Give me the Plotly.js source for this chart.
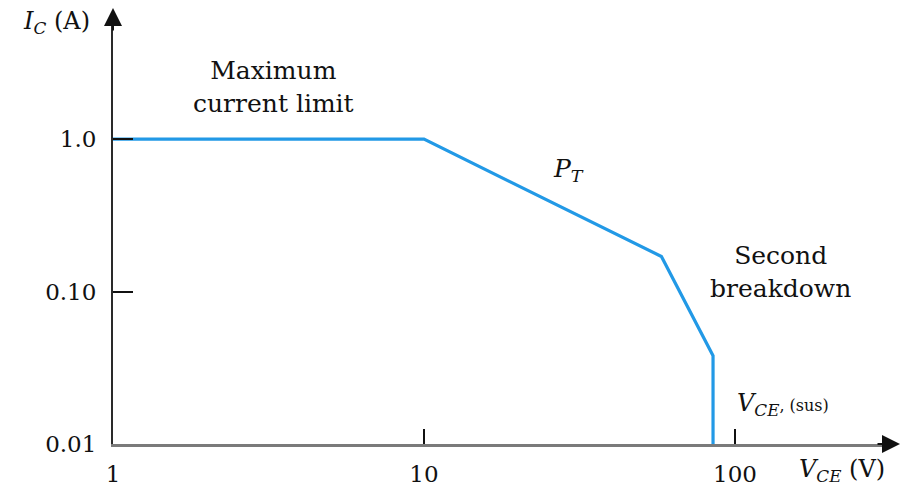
<!DOCTYPE html>
<html>
<head>
<meta charset="utf-8">
<script src="https://cdn.plot.ly/plotly-3.0.1.min.js"></script>
<style>
  html, body { margin: 0; padding: 0; background: #fff; }
  #chart { width: 907px; height: 489px; }
</style>
</head>
<body>
<div id="chart"></div>
<script>
// Safe operating area of a power transistor (log-log)
const vce = [1, 10, 58, 85, 85];          // collector-emitter voltage, V
const ic = [1.0, 1.0, 0.17, 0.038, 0.01]; // collector current, A

const xTickVals = [1, 10, 100];
const xTickText = ['1', '10', '100'];
const yTickVals = [0.01, 0.1, 1];
const yTickText = ['0.01', '0.10', '1.0'];

// plot-area geometry in pixels
const L = 113, T = 20, W = 775, H = 424;
const px = x => (x - L) / W;
const py = y => 1 - (y - T) / H;

const serif = 'DejaVu Serif, Liberation Serif, serif';
const ink = '#111111';

const trace = {
  x: vce, y: ic,
  type: 'scatter', mode: 'lines',
  line: { color: '#2299e6', width: 3.2 },
  hoverinfo: 'skip'
};

function label(text, x, y, size, align) {
  return {
    text: text, xref: 'paper', yref: 'paper', x: px(x), y: py(y),
    xanchor: align || 'center', yanchor: 'middle', showarrow: false,
    font: { family: serif, size: size, color: ink }
  };
}

function arrow(xTip, yTip, ax, ay) {
  return {
    text: '', xref: 'paper', yref: 'paper', x: px(xTip), y: py(yTip),
    ax: ax, ay: ay, showarrow: true, arrowhead: 2, arrowsize: 1.8,
    arrowwidth: 2, arrowcolor: ink
  };
}

const layout = {
  width: 907, height: 489,
  margin: { l: L, r: 907 - L - W, t: T, b: 489 - T - H },
  paper_bgcolor: '#fff', plot_bgcolor: '#fff',
  showlegend: false,
  xaxis: {
    type: 'log', range: [0, 2.492],
    tickvals: xTickVals, ticktext: xTickText,
    ticks: 'inside', ticklen: 15, tickwidth: 1.6, tickcolor: ink,
    showline: true, linecolor: '#7a7a7a', linewidth: 3,
    showgrid: false, zeroline: false,
    ticklabelstandoff: 7,
    tickfont: { family: serif, size: 23, color: ink }
  },
  yaxis: {
    type: 'log', range: [-2, 0.782],
    tickvals: yTickVals, ticktext: yTickText,
    ticks: 'inside', ticklen: 20, tickwidth: 2, tickcolor: ink,
    showline: true, linecolor: '#2a2a2a', linewidth: 2,
    showgrid: false, zeroline: false,
    ticklabelstandoff: 10,
    tickfont: { family: serif, size: 23, color: ink }
  },
  annotations: [
    label('<i>I</i><sub><i>C</i></sub> (A)', 57, 22, 24),
    label('Maximum<br>current limit', 273, 87, 25),
    label('<i>P</i><sub><i>T</i></sub>', 568, 170, 25),
    label('Second<br>breakdown', 780, 272, 25),
    label('<i>V</i><sub><i>CE</i></sub><span style="font-size:16px">, (sus)</span>', 735, 404, 24, 'left'),
    label('<i>V</i><sub><i>CE</i></sub> (V)', 797, 470, 24, 'left'),
    arrow(113, 8, 0, 24),
    arrow(900, 444, -24, 0)
  ]
};

Plotly.newPlot('chart', [trace], layout, { staticPlot: true, displayModeBar: false });
</script>
</body>
</html>
